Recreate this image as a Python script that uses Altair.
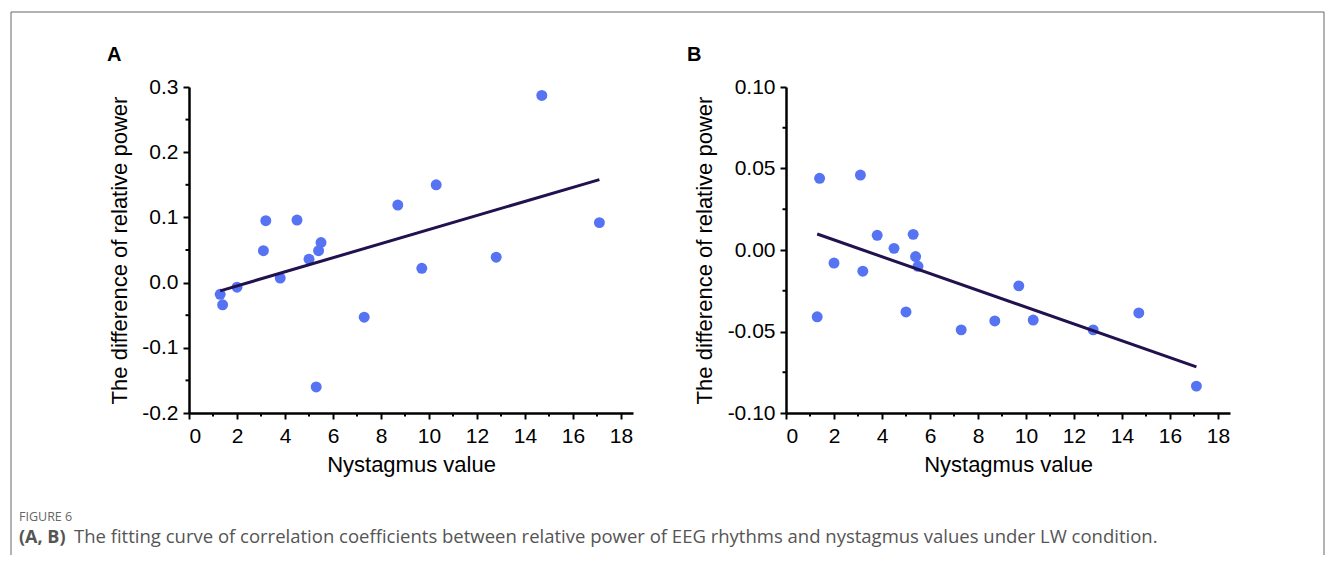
import altair as alt
import pandas as pd

# ---- data ----
nystagmus = [1.3, 1.4, 2.0, 3.1, 3.2, 3.8, 4.5, 5.0, 5.3, 5.4, 5.5, 7.3, 8.7, 9.7, 10.3, 12.8, 14.7, 17.1]
power_a = [-0.018, -0.034, -0.007, 0.049, 0.095, 0.007, 0.096, 0.036, -0.160, 0.049, 0.0615,
           -0.053, 0.119, 0.022, 0.150, 0.039, 0.287, 0.092]
power_b = [-0.041, 0.044, -0.008, 0.046, -0.013, 0.009, 0.001, -0.038, 0.0096, -0.004, -0.010,
           -0.049, -0.0435, -0.022, -0.043, -0.049, -0.0386, -0.0835]

fit_x = [1.3, 17.1]
fit_a = [-0.0126, 0.158]
fit_b = [0.0098, -0.0717]

x_major = [0, 2, 4, 6, 8, 10, 12, 14, 16, 18]
x_minor = [1, 3, 5, 7, 9, 11, 13, 15, 17]
a_y_major = [-0.2, -0.1, 0.0, 0.1, 0.2, 0.3]
a_y_minor = [-0.15, -0.05, 0.05, 0.15, 0.25]
b_y_major = [-0.10, -0.05, 0.0, 0.05, 0.10]
b_y_minor = [-0.075, -0.025, 0.025, 0.075]

x_title = "Nystagmus value"
y_title = "The difference of relative power"
fig_label = "FIGURE 6"
cap_bold = "(A, B)"
cap_text = "The fitting curve of correlation coefficients between relative power of EEG rhythms and nystagmus values under LW condition."

POINT = "#5673F3"
LINE = "#21114E"
W, H = 444, 326
FONT = "Liberation Sans"


def panel(yvals, fit_y, ymajor, yminor, ydomain, fmt, label, lx, ly, tpad, extra=()):
    xscale = alt.Scale(domain=[0, 18.5], nice=False, zero=False)
    yscale = alt.Scale(domain=ydomain, nice=False, zero=False)
    xaxis = alt.Axis(values=x_major, format="d", labelPadding=6, titlePadding=8)
    yaxis = alt.Axis(values=ymajor, labelPadding=5, titlePadding=tpad,
                     labelExpr="replace(format(datum.value, '%s'), '\u2212', '-')" % fmt)
    pts = alt.Chart(pd.DataFrame({"x": nystagmus, "y": yvals})).mark_circle(
        size=120, color=POINT, opacity=1
    ).encode(
        x=alt.X("x:Q", scale=xscale, axis=xaxis, title=x_title),
        y=alt.Y("y:Q", scale=yscale, axis=yaxis, title=y_title),
    )
    fit = alt.Chart(pd.DataFrame({"x": fit_x, "y": fit_y})).mark_line(
        color=LINE, strokeWidth=3
    ).encode(x=alt.X("x:Q", title=x_title), y=alt.Y("y:Q", title=y_title))
    xm = alt.Chart(pd.DataFrame({"v": x_minor})).mark_rule(color="black", strokeWidth=2).encode(
        x=alt.X("v:Q", title=x_title), y=alt.value(H), y2=alt.value(H + 3.5)
    )
    ym = alt.Chart(pd.DataFrame({"v": yminor})).mark_rule(color="black", strokeWidth=2).encode(
        y=alt.Y("v:Q", title=y_title), x=alt.value(0), x2=alt.value(-3.5)
    )
    lab = alt.Chart(pd.DataFrame({"t": [label]})).mark_text(
        align="left", baseline="alphabetic", font=FONT, fontSize=20, fontWeight="bold", color="black"
    ).encode(x=alt.value(lx), y=alt.value(ly), text="t:N")
    layers = [pts, fit, xm, ym, lab] + list(extra)
    return alt.layer(*layers).properties(width=W, height=H)


one = pd.DataFrame({"k": [0]})
frame_style = dict(color="#666666", strokeWidth=1)
frame_top = alt.Chart(one).mark_rule(**frame_style).encode(
    x=alt.value(-178), x2=alt.value(1135), y=alt.value(-75))
frame_left = alt.Chart(one).mark_rule(**frame_style).encode(
    x=alt.value(-178), y=alt.value(-75), y2=alt.value(468))
frame_right = alt.Chart(one).mark_rule(**frame_style).encode(
    x=alt.value(1135), y=alt.value(-75), y2=alt.value(468))
fig_txt = alt.Chart(pd.DataFrame({"t": [fig_label]})).mark_text(
    align="left", baseline="alphabetic", font="Open Sans", fontSize=12.5, color="#666666"
).encode(x=alt.value(-170), y=alt.value(434), text="t:N")
cap_b = alt.Chart(pd.DataFrame({"t": [cap_bold]})).mark_text(
    align="left", baseline="alphabetic", font="Open Sans", fontSize=18, fontWeight="bold", color="#555555"
).encode(x=alt.value(-170), y=alt.value(456), text="t:N")
cap_r = alt.Chart(pd.DataFrame({"t": [cap_text]})).mark_text(
    align="left", baseline="alphabetic", font="Open Sans", fontSize=18.5, color="#555555"
).encode(x=alt.value(-115), y=alt.value(456), text="t:N")

chart_a = panel(power_a, fit_a, a_y_major, a_y_minor, [-0.2, 0.3], ".1f", "A", -82, -26, 10,
                extra=[frame_top, frame_left, frame_right, fig_txt, cap_b, cap_r])
chart_b = panel(power_b, fit_b, b_y_major, b_y_minor, [-0.10, 0.10], ".2f", "B", -99, -26, 11)

chart = alt.hconcat(chart_a, chart_b, spacing=153, bounds="flush").properties(
    padding={"left": 2, "top": 3, "right": 0, "bottom": 0}
).configure_view(stroke=None).configure_axis(
    grid=False,
    domainColor="black", domainWidth=2.5,
    tickColor="black", tickWidth=2, tickSize=6,
    labelFont=FONT, labelFontSize=21, labelColor="black",
    titleFont=FONT, titleFontSize=22, titleFontWeight="normal", titleColor="black",
)

chart.save("out.html", embed_options={"renderer": "svg", "actions": False})
